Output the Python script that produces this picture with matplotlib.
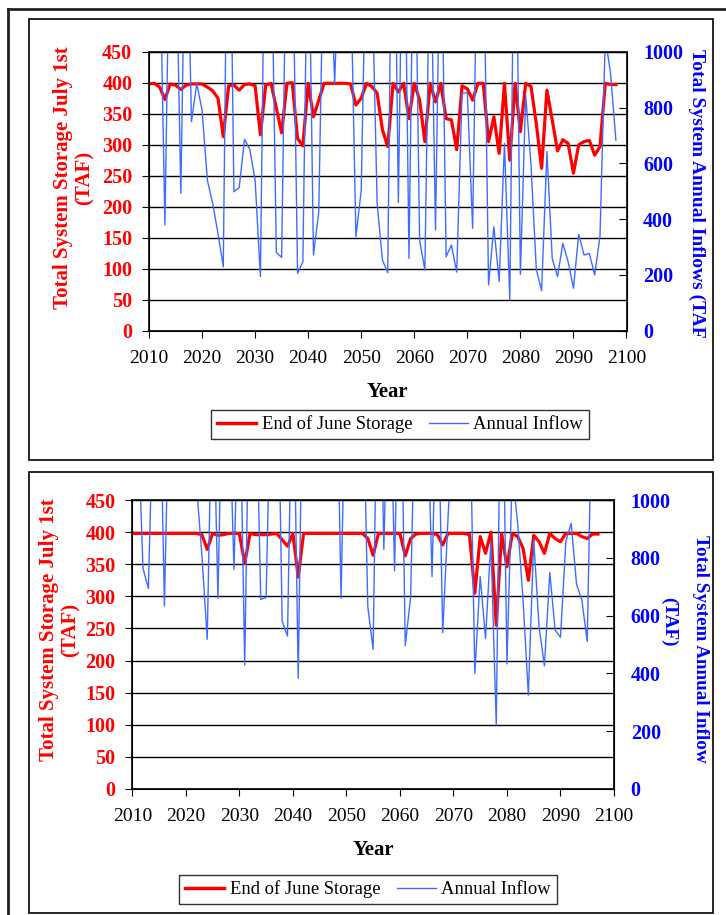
import numpy as np
import matplotlib
matplotlib.use("Agg")
import matplotlib.pyplot as plt
from matplotlib.lines import Line2D
from matplotlib.patches import Rectangle

plt.rcParams['font.family'] = ['Liberation Serif', 'DejaVu Serif']

# ---- data ----
top_years = np.arange(2010, 2099)
top_storage = [398, 399, 393, 373, 398, 396, 389, 396, 398, 398,
               398, 393, 387, 375, 313, 395, 396, 388, 397, 398,
               395, 316, 396, 399, 359, 319, 399, 400, 310, 298,
               399, 345, 372, 399, 399, 399, 399, 399, 398, 364,
               375, 399, 394, 383, 324, 297, 399, 385, 399, 342,
               399, 372, 305, 399, 369, 399, 342, 340, 292, 395,
               390, 372, 399, 399, 305, 345, 286, 399, 275, 399,
               321, 399, 394, 334, 262, 388, 340, 290, 308, 302,
               254, 300, 305, 307, 283, 297, 399, 397, 397]
top_inflow = [1500, 1800, 1400, 379, 1600, 1500, 492, 1700, 749, 886,
              791, 540, 456, 349, 229, 2000, 498, 513, 686, 650,
              540, 194, 1800, 1500, 280, 263, 1600, 1500, 205, 247,
              1600, 271, 427, 1500, 1400, 886, 1500, 1400, 1300, 337,
              504, 1500, 1300, 456, 253, 208, 2000, 460, 1800, 259,
              1700, 325, 217, 1500, 361, 1600, 265, 307, 210, 851,
              853, 367, 1600, 1500, 164, 373, 176, 671, 110, 1800,
              202, 845, 595, 220, 143, 642, 259, 194, 313, 247,
              152, 346, 271, 277, 200, 337, 1050, 922, 683]

bot_years = np.arange(2010, 2098)
bot_storage = [398, 398, 398, 398, 398, 398, 398, 398, 398, 398,
               398, 398, 398, 396, 373, 398, 395, 396, 398, 398,
               398, 351, 398, 396, 396, 396, 397, 398, 388, 378,
               398, 330, 398, 398, 398, 398, 398, 398, 398, 398,
               398, 398, 398, 398, 390, 364, 398, 398, 398, 398,
               398, 363, 390, 397, 398, 398, 398, 396, 380, 398,
               398, 398, 398, 396, 305, 393, 367, 400, 255, 398,
               346, 398, 393, 375, 325, 395, 385, 367, 398, 390,
               385, 398, 398, 398, 393, 390, 397, 397]
bot_inflow = [1500, 1300, 763, 694, 1400, 1600, 633, 1500, 1800, 1600,
              1400, 1500, 1050, 810, 518, 1500, 660, 1600, 1400, 760,
              1500, 429, 1600, 1500, 656, 663, 1500, 1700, 581, 529,
              1600, 383, 1700, 1500, 1800, 1600, 1400, 1500, 1700, 660,
              1600, 1500, 1400, 1500, 631, 483, 1800, 829, 1600, 755,
              1700, 496, 665, 1500, 1600, 1400, 735, 1500, 541, 942,
              1300, 1500, 1600, 1400, 400, 735, 521, 856, 221, 1700,
              433, 1100, 919, 655, 325, 862, 562, 426, 749, 550,
              525, 856, 919, 709, 654, 510, 1500, 1400]

W, H = 726, 915
RED = '#ff0000'
BLUE = '#3f6cff'
fig = plt.figure(figsize=(W / 100, H / 100), dpi=100)


def px(x0, y0, x1, y1):
    # pixel box -> figure fraction rect
    return [x0 / W, 1 - y1 / H, (x1 - x0) / W, (y1 - y0) / H]


def panel(rect, years, storage, inflow, leg_xy, lab_left, lab_right):
    ax = fig.add_axes(px(*rect))
    ax.plot(years, storage, color=RED, lw=2.3, solid_joinstyle='round', zorder=3)
    ax.set_xlim(2010, 2100)
    ax.set_ylim(0, 450)
    ax.set_xticks(range(2010, 2101, 10))
    ax.set_yticks(range(0, 451, 50))
    ax.yaxis.grid(True, color='black', lw=1)
    ax.set_axisbelow(True)
    ax.tick_params(axis='y', direction='out', length=5, pad=7, labelsize=14.5,
                   labelcolor=RED)
    ax.tick_params(axis='x', direction='out', length=5, pad=9, labelsize=14)
    for t in ax.get_yticklabels():
        t.set_fontweight('bold')
    for s in ax.spines.values():
        s.set_linewidth(1.2)

    ax2 = ax.twinx()
    ax2.plot(years, inflow, color=BLUE, lw=1.0)
    ax2.set_ylim(0, 1000)
    ax2.set_yticks(range(0, 1001, 200))
    ax2.tick_params(axis='y', direction='in', length=6, pad=12, labelsize=14.5,
                    labelcolor='#0000ff')
    for t in ax2.get_yticklabels():
        t.set_fontweight('bold')

    cx = (rect[0] + rect[2]) / 2
    fig.text(cx / W, 1 - (rect[3] + 61) / H, 'Year', ha='center', va='center',
             fontsize=15, fontweight='bold')

    handles = [Line2D([], [], color=RED, lw=2.5), Line2D([], [], color=BLUE, lw=1.0)]
    leg = ax.legend(handles, ['End of June Storage', 'Annual Inflow'], loc='center',
                    bbox_to_anchor=(leg_xy[0] / W, 1 - leg_xy[1] / H),
                    bbox_transform=fig.transFigure, ncol=2, fancybox=False,
                    edgecolor='black', fontsize=13.4, handlelength=2.1,
                    handletextpad=0.3, columnspacing=0.9, borderpad=0.32,
                    borderaxespad=0)
    leg.get_frame().set_linewidth(1.0)

    for x, y, s, va, ha in lab_left:
        fig.text(x / W, 1 - y / H, s, rotation=90, color=RED, fontsize=15,
                 fontweight='bold', ha=ha, va=va, multialignment='center',
                 linespacing=1.1)
    for x, y, s, va, fs in lab_right:
        fig.text(x / W, 1 - y / H, s, rotation=-90, color='#0000ff', fontsize=fs,
                 fontweight='bold', ha='center', va=va)
    return ax


panel((149, 51.7, 626.5, 330.7), top_years, top_storage, top_inflow, (400, 424.5),
      [(74, 178, 'Total System Storage July 1st\n(TAF)', 'center', 'center')],
      [(697, 49, 'Total System Annual Inflows (TAF', 'top', 14.0)])

panel((132.3, 500, 614, 789), bot_years, bot_storage, bot_inflow, (368, 889.5),
      [(60, 630, 'Total System Storage July 1st\n(TAF)', 'center', 'center')],
      [(701, 535, 'Total System Annual Inflow', 'top', 13.8),
       (669, 622, '(TAF)', 'center', 13.8)])

# panel frames and page border
for box in [(29, 19, 713, 460), (29, 472, 713, 913)]:
    fig.add_artist(Rectangle(px(*box)[:2], px(*box)[2], px(*box)[3], fill=False,
                             ec='black', lw=1.2, transform=fig.transFigure))
fig.add_artist(Line2D([8 / W, 8 / W], [0, 1 - 9 / H], color='#222222', lw=2,
                      transform=fig.transFigure))
fig.add_artist(Line2D([8 / W, 1], [1 - 9 / H, 1 - 9 / H], color='#222222', lw=2,
                      transform=fig.transFigure))

fig.savefig('out.png', dpi=100)
